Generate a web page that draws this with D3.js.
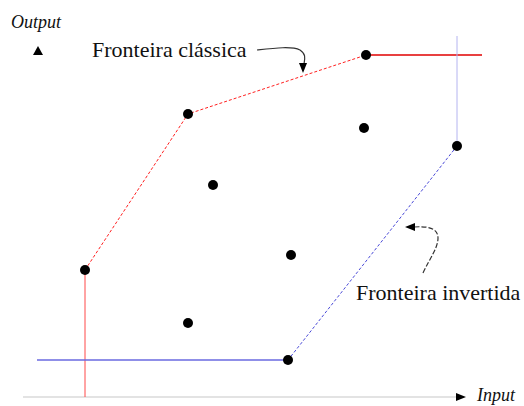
<!DOCTYPE html>
<html>
<head>
<meta charset="utf-8">
<script src="https://cdn.jsdelivr.net/npm/d3@7"></script>
<style>
  html, body { margin: 0; padding: 0; background: #fff; }
  svg { display: block; }
</style>
</head>
<body>
<div id="chart-container"></div>
<script>
// DMU observations (input, output)
var dmuInput  = [6.2, 16.5, 34.3, 34.1, 43.4, 19.0, 26.8, 16.5, 26.5];
var dmuOutput = [12.7, 28.3, 34.2, 26.9, 25.1, 21.2, 14.2, 7.4, 3.7];

// classic frontier (upper envelope)
var classicSolidA = [[6.2, 0], [6.2, 12.7]];
var classicDashed = [[6.2, 12.7], [16.5, 28.3], [34.3, 34.2]];
var classicSolidB = [[34.3, 34.2], [45.9, 34.2]];

// inverted frontier (lower envelope)
var invertedSolidA = [[43.4, 36.1], [43.4, 25.1]];
var invertedDashed = [[43.4, 25.1], [26.5, 3.7]];
var invertedSolidB = [[26.5, 3.7], [1.4, 3.7]];

var axisEnd = 44.3;
var labels = ["Fronteira clássica", "Fronteira invertida"];
var axisTitles = ["Input", "Output"];

var width = 524, height = 406;
var serif = "Liberation Serif";

var svg = d3.select("#chart-container").append("svg")
  .attr("width", width).attr("height", height);

var x = d3.scaleLinear().domain([0, 50]).range([23, 523]);
var y = d3.scaleLinear().domain([0, 40]).range([397, -3]);
var line = d3.line().x(function (d) { return x(d[0]); }).y(function (d) { return y(d[1]); });

// x axis, no ticks, grey line with black arrowhead
svg.append("line")
  .attr("x1", x(0)).attr("y1", y(0)).attr("x2", x(axisEnd) - 4).attr("y2", y(0))
  .attr("stroke", "#c8c8c8").attr("stroke-width", 1.2);
svg.append("path")
  .attr("d", "M0,0 L-10,-4 L-10,4 Z")
  .attr("transform", "translate(" + x(axisEnd) + "," + y(0) + ")")
  .attr("fill", "#000");

// y axis arrowhead only
svg.append("path")
  .attr("d", "M0,-5 L5,4 L-5,4 Z")
  .attr("transform", "translate(" + x(1.5) + "," + y(34.6) + ")")
  .attr("fill", "#000");

svg.append("text").attr("x", 477).attr("y", 401)
  .style("font-family", serif).style("font-style", "italic").style("font-size", "18px")
  .attr("fill", "#111").text(axisTitles[0]);
svg.append("text").attr("x", 11).attr("y", 28)
  .style("font-family", serif).style("font-style", "italic").style("font-size", "18px")
  .attr("fill", "#111").text(axisTitles[1]);

// classic frontier
svg.append("path").attr("d", line(classicSolidA)).attr("fill", "none")
  .attr("stroke", "#ff4848").attr("stroke-width", 1);
svg.append("path").attr("d", line(classicDashed)).attr("fill", "none")
  .attr("stroke", "#ff2020").attr("stroke-width", 1).attr("stroke-dasharray", "3,2");
svg.append("path").attr("d", line(classicSolidB)).attr("fill", "none")
  .attr("stroke", "#e00000").attr("stroke-width", 1.3);

// inverted frontier
svg.append("path").attr("d", line(invertedSolidA)).attr("fill", "none")
  .attr("stroke", "#b4b4f0").attr("stroke-width", 1);
svg.append("path").attr("d", line(invertedDashed)).attr("fill", "none")
  .attr("stroke", "#4a4ad8").attr("stroke-width", 1).attr("stroke-dasharray", "3,2");
svg.append("path").attr("d", line(invertedSolidB)).attr("fill", "none")
  .attr("stroke", "#6a6ae0").attr("stroke-width", 1.5);

// DMU points
svg.selectAll("circle.dmu").data(dmuInput).enter().append("circle")
  .attr("class", "dmu")
  .attr("cx", function (d) { return x(d); })
  .attr("cy", function (d, i) { return y(dmuOutput[i]); })
  .attr("r", 5).attr("fill", "#000");

// labels
svg.append("text").attr("x", 92).attr("y", 57)
  .style("font-family", serif).style("font-size", "22px")
  .attr("fill", "#111").text(labels[0]);
svg.append("text").attr("x", 356).attr("y", 300)
  .style("font-family", serif).style("font-size", "22px")
  .attr("fill", "#111").text(labels[1]);

// annotation arrows
svg.append("path")
  .attr("d", "M257,50 C275,48 292,46 300,50 C306,54 305,58 304,64")
  .attr("fill", "none").attr("stroke", "#333").attr("stroke-width", 1.2);
svg.append("path")
  .attr("d", "M0,0 L-4,-10 L4,-10 Z")
  .attr("transform", "translate(303,73)")
  .attr("fill", "#000");

svg.append("path")
  .attr("d", "M423,273 C430,258 438,248 438,238 C438,228 428,226 414,227")
  .attr("fill", "none").attr("stroke", "#333").attr("stroke-width", 1.2)
  .attr("stroke-dasharray", "5,2");
svg.append("path")
  .attr("d", "M0,0 L10,-4 L10,4 Z")
  .attr("transform", "translate(405,227)")
  .attr("fill", "#000");
</script>
</body>
</html>
